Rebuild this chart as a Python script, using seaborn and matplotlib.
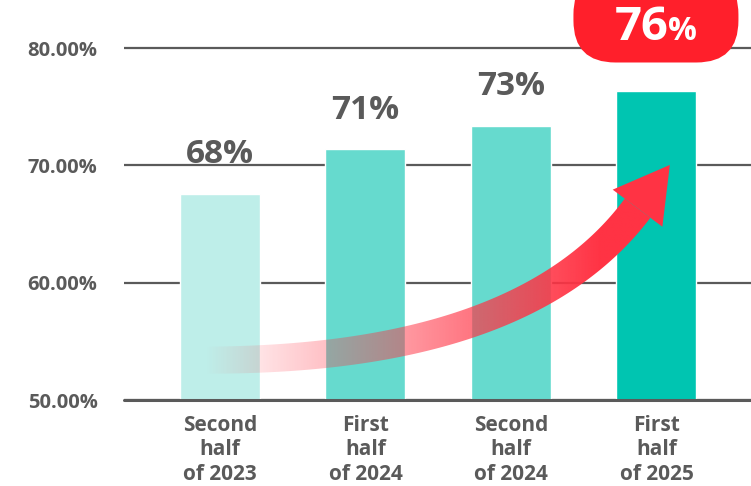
import numpy as np
import pandas as pd
import matplotlib
matplotlib.use("Agg")
import matplotlib.pyplot as plt
import seaborn as sns
from matplotlib.patches import FancyBboxPatch, Polygon
from matplotlib.transforms import IdentityTransform

# ---- data -------------------------------------------------------------
periods = ["Second\nhalf\nof 2023", "First\nhalf\nof 2024",
           "Second\nhalf\nof 2024", "First\nhalf\nof 2025"]
shares = [67.6, 71.4, 73.4, 76.3]
bar_colors = ["#BEEEE9", "#66DACE", "#66DACE", "#00C5B1"]
y_ticks = [50, 60, 70, 80]

TEXT = "#5A5A5A"
RED = "#FF1F2B"
ARROW = np.array([255, 51, 68]) / 255

sns.set_theme(style="white")
plt.rcParams["font.family"] = ["Open Sans", "DejaVu Sans"]

W, H = 751, 486
fig = plt.figure(figsize=(W / 100, H / 100), dpi=100)
ax = fig.add_axes([124 / W, (H - 400) / H, (W - 124) / W, 400 / H])

df = pd.DataFrame({"period": periods, "share": shares})
sns.barplot(data=df, x="period", y="share", hue="period", palette=bar_colors,
            legend=False, width=0.55, saturation=1, ax=ax, zorder=3)

XLIM = (-0.66, 3.65)
YLIM = (50, 84.1)
ax.set_xlim(*XLIM)
ax.set_ylim(*YLIM)

# grid lines behind bars, baseline on top
ax.set_yticks(y_ticks)
ax.set_yticklabels([f"{v:.2f}%" for v in y_ticks])
ax.yaxis.grid(True, color=TEXT, lw=1.6)
ax.set_axisbelow(True)
ax.axhline(50, color=TEXT, lw=2.2, zorder=4, clip_on=False)
for s in ax.spines.values():
    s.set_visible(False)
ax.tick_params(axis="y", length=0, pad=19, labelsize=14.5, labelcolor=TEXT)
ax.tick_params(axis="x", length=0, pad=11, labelsize=15, labelcolor=TEXT)
for lab in ax.get_yticklabels():
    lab.set_fontweight("bold")
for lab in ax.get_xticklabels():
    lab.set_fontweight("bold")
    lab.set_linespacing(1.2)
ax.set_xlabel("")
ax.set_ylabel("")

# value labels above the first three bars
for i, v in enumerate(shares[:-1]):
    ax.annotate(f"{v:.0f}%", (i, v), xytext=(0, 28), textcoords="offset points",
                ha="center", va="center", fontsize=24, fontweight="bold",
                color=TEXT, zorder=6)

# highlighted badge for the latest period
bx, by = ax.transData.transform((3, shares[-1]))
badge = FancyBboxPatch((bx - 83, by + 29), 165, 90,
                       boxstyle="round,pad=0,rounding_size=42",
                       transform=IdentityTransform(), fc=RED, ec="none",
                       zorder=7)
fig.add_artist(badge)
fig.text((bx + 12) / W, (by + 51) / H, f"{shares[-1]:.0f}", ha="right",
         va="baseline", fontsize=34, fontweight="bold", color="white", zorder=8)
fig.text((bx + 12) / W, (by + 51) / H, "%", ha="left", va="baseline",
         fontsize=23, fontweight="bold", color="white", zorder=8)

# ---- curved trend arrow -----------------------------------------------
P = ax.transData.transform([(-0.10, 53.4), (2.09, 53.4), (2.87, 66.35)])
t = np.linspace(0, 1, 300)[:, None]
curve = (1 - t) ** 2 * P[0] + 2 * (1 - t) * t * P[1] + t ** 2 * P[2]
tang = 2 * (1 - t) * (P[1] - P[0]) + 2 * t * (P[2] - P[1])
tang /= np.linalg.norm(tang, axis=1, keepdims=True)
norm = np.column_stack([-tang[:, 1], tang[:, 0]])
half = 13.5 + 2.5 * t
upper = curve + norm * half
lower = curve - norm * half
body = np.vstack([upper, lower[::-1]])
body_patch = Polygon(body, closed=True, transform=IdentityTransform(),
                     fc="none", ec="none")
fig.add_artist(body_patch)

# horizontal alpha gradient painted through the arrow body
x0_px, x1_px = P[0][0], 600.0
gx = np.linspace(body[:, 0].min(), body[:, 0].max(), 400)
alpha = np.clip((gx - x0_px) / (x1_px - x0_px), 0, 1)
grad = np.zeros((2, gx.size, 4))
grad[..., :3] = ARROW
grad[..., 3] = alpha
inv = ax.transData.inverted()
(ex0, ey0), (ex1, ey1) = inv.transform([(gx[0], body[:, 1].min()),
                                        (gx[-1], body[:, 1].max())])
im = ax.imshow(grad, extent=[ex0, ex1, ey0, ey1], aspect="auto",
               interpolation="bilinear", zorder=5, origin="lower")
im.set_clip_path(body_patch)
ax.set_xlim(*XLIM)
ax.set_ylim(*YLIM)

# arrow head
end = P[2]
d = tang[-1]
n = norm[-1]
head = np.array([end + d * 54, end + n * 31, end - n * 31])
fig.add_artist(Polygon(head, closed=True, transform=IdentityTransform(),
                       fc=ARROW, ec="none", zorder=6))

fig.savefig("out.png", dpi=100)
